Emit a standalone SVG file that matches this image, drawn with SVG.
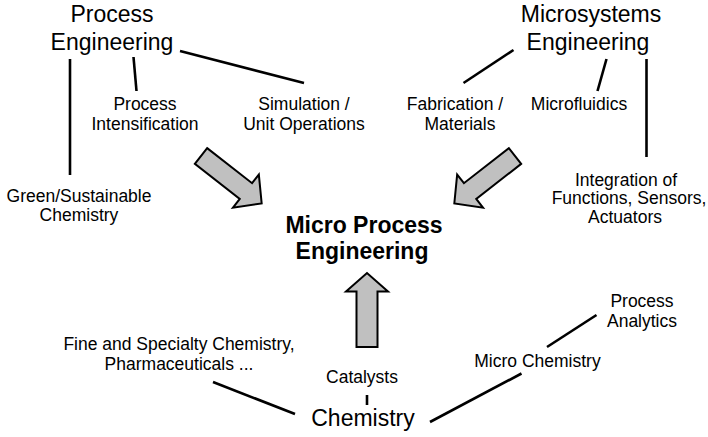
<svg xmlns="http://www.w3.org/2000/svg" width="708" height="437" viewBox="0 0 708 437">
  <style>
    text { font-family: "Liberation Sans", Arial, sans-serif; fill: #000; text-anchor: middle; }
    .big { font-size: 23px; }
    .small { font-size: 17.5px; }
    .title { font-size: 23px; font-weight: bold; }
    .link { stroke: #000; stroke-width: 2.6; fill: none; }
    .block { fill: #c0c0c0; stroke: #000; stroke-width: 2; stroke-linejoin: miter; }
  </style>
  <rect width="708" height="437" fill="#fff"/>

  <!-- connectors -->
  <g id="connectors">
    <line class="link" x1="70" y1="59" x2="70" y2="175"/>
    <line class="link" x1="133.5" y1="57" x2="136.5" y2="91"/>
    <line class="link" x1="180" y1="51" x2="304" y2="83"/>
    <line class="link" x1="513.5" y1="50" x2="463.5" y2="83"/>
    <line class="link" x1="606.5" y1="59" x2="597.5" y2="91"/>
    <line class="link" x1="646.5" y1="59" x2="646.5" y2="157"/>
    <line class="link" x1="213" y1="382" x2="295" y2="414"/>
    <line class="link" x1="367" y1="395" x2="367" y2="405"/>
    <line class="link" x1="430" y1="422" x2="521.5" y2="373.5"/>
    <line class="link" x1="547" y1="347" x2="596.5" y2="315"/>
    <!-- block arrows into the centre -->
    <path class="block" transform="translate(201,156) rotate(38)" d="M0,-10 L57,-10 L57,-21 L77,0 L57,21 L57,10 L0,10 Z"/>
    <path class="block" transform="translate(515,156) rotate(142)" d="M0,-10 L57,-10 L57,-21 L77,0 L57,21 L57,10 L0,10 Z"/>
    <path class="block" transform="translate(367,347) rotate(-90)" d="M0,-10.5 L55.5,-10.5 L55.5,-21 L74,0 L55.5,21 L55.5,10.5 L0,10.5 Z"/>
  </g>

  <g id="process-engineering">
    <text class="big" x="112" y="22">Process</text>
    <text class="big" x="112" y="49.5">Engineering</text>
  </g>
  <g id="microsystems-engineering">
    <text class="big" x="591" y="22">Microsystems</text>
    <text class="big" x="588" y="49.5">Engineering</text>
  </g>
  <g id="process-intensification">
    <text class="small" x="145" y="110">Process</text>
    <text class="small" x="145" y="129.5">Intensification</text>
  </g>
  <g id="simulation">
    <text class="small" x="304" y="110">Simulation /</text>
    <text class="small" x="304" y="129.5">Unit Operations</text>
  </g>
  <g id="green-chemistry">
    <text class="small" x="79" y="201.5">Green/Sustainable</text>
    <text class="small" x="79" y="221">Chemistry</text>
  </g>
  <g id="fabrication">
    <text class="small" x="455" y="110">Fabrication /</text>
    <text class="small" x="460" y="129.5">Materials</text>
  </g>
  <g id="microfluidics">
    <text class="small" x="579" y="110">Microfluidics</text>
  </g>
  <g id="integration">
    <text class="small" x="626" y="185.5">Integration of</text>
    <text class="small" x="629" y="204">Functions, Sensors,</text>
    <text class="small" x="625" y="222.5">Actuators</text>
  </g>
  <g id="micro-process-engineering">
    <text class="title" x="364" y="233">Micro Process</text>
    <text class="title" x="362" y="259">Engineering</text>
  </g>
  <g id="fine-chemistry">
    <text class="small" x="179" y="350">Fine and Specialty Chemistry,</text>
    <text class="small" x="179" y="369.5">Pharmaceuticals ...</text>
  </g>
  <g id="catalysts">
    <text class="small" x="362" y="383">Catalysts</text>
  </g>
  <g id="chemistry">
    <text class="big" x="363" y="426">Chemistry</text>
  </g>
  <g id="micro-chemistry">
    <text class="small" x="537.5" y="366.5">Micro Chemistry</text>
  </g>
  <g id="process-analytics">
    <text class="small" x="642" y="307">Process</text>
    <text class="small" x="642" y="327">Analytics</text>
  </g>
</svg>
